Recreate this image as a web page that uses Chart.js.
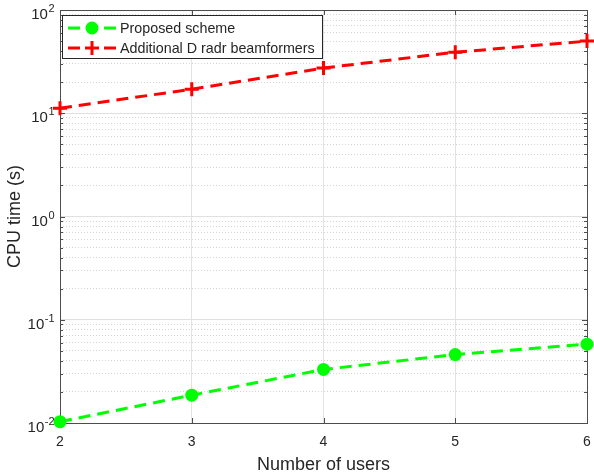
<!DOCTYPE html>
<html>
<head>
<meta charset="utf-8">
<script src="https://cdn.jsdelivr.net/npm/chart.js@4/dist/chart.umd.min.js"></script>
<style>
  html, body { margin: 0; padding: 0; background: #ffffff; }
  #wrap { width: 594px; height: 472px; }
</style>
</head>
<body>
<div id="wrap"><canvas id="cpuChart" width="594" height="472"></canvas></div>
<script>
// ---- data ----
const users = [2, 3, 4, 5, 6];
const proposedTime = [0.0103, 0.0186, 0.033, 0.046, 0.058];
const additionalTime = [11.2, 17.1, 27.4, 39, 50];
const seriesNames = ['Proposed scheme', 'Additional D radr beamformers'];
const yDecades = [0.01, 0.1, 1, 10, 100];
const xTickValues = [2, 3, 4, 5, 6];

const FONT = "'Liberation Sans', Arial, Helvetica, sans-serif";
const TEXT_COLOR = '#262626';
const AXIS_COLOR = '#4d4d4d';

// log ticks: 1..9 per decade, decades are "major"
const yTicks = [];
yDecades.forEach((d, i) => {
    if (i === yDecades.length - 1) { yTicks.push({ value: d, major: true }); return; }
    for (let k = 1; k <= 9; k++) {
        yTicks.push({ value: Number((k * d).toPrecision(3)), major: k === 1 });
    }
});

// Box + inward tick marks (MATLAB style)
const axesBox = {
    id: 'axesBox',
    beforeDatasetsDraw(chart) {
        const { ctx, chartArea: a, scales } = chart;
        ctx.save();
        ctx.strokeStyle = AXIS_COLOR;
        ctx.lineWidth = 1;
        ctx.beginPath();
        scales.x.ticks.forEach(t => {
            const px = Math.round(scales.x.getPixelForValue(t.value)) + 0.5;
            ctx.moveTo(px, a.bottom); ctx.lineTo(px, a.bottom - 5);
            ctx.moveTo(px, a.top); ctx.lineTo(px, a.top + 5);
        });
        scales.y.ticks.forEach(t => {
            const py = Math.round(scales.y.getPixelForValue(t.value)) + 0.5;
            const len = t.major ? 5 : 3;
            ctx.moveTo(a.left, py); ctx.lineTo(a.left + len, py);
            ctx.moveTo(a.right, py); ctx.lineTo(a.right - len, py);
        });
        ctx.stroke();
        ctx.strokeRect(Math.round(a.left) + 0.5, Math.round(a.top) + 0.5,
            Math.round(a.right - a.left), Math.round(a.bottom - a.top));
        ctx.restore();
    }
};

function drawMarker(ctx, ds, x, y) {
    if (ds.pointStyle === 'cross') {
        const r = ds.pointRadius;
        ctx.strokeStyle = ds.borderColor;
        ctx.lineWidth = 3;
        ctx.beginPath();
        ctx.moveTo(x - r, y); ctx.lineTo(x + r, y);
        ctx.moveTo(x, y - r); ctx.lineTo(x, y + r);
        ctx.stroke();
    } else {
        ctx.fillStyle = ds.pointBackgroundColor;
        ctx.beginPath();
        ctx.arc(x, y, ds.pointRadius, 0, Math.PI * 2);
        ctx.fill();
    }
}

// Legend inside the axes, upper left
const insideLegend = {
    id: 'insideLegend',
    afterDatasetsDraw(chart) {
        const { ctx } = chart;
        const x0 = 62, y0 = 15, w = 260, h = 43;
        ctx.save();
        ctx.fillStyle = '#ffffff';
        ctx.fillRect(x0, y0, w, h);
        ctx.strokeStyle = TEXT_COLOR;
        ctx.lineWidth = 1;
        ctx.strokeRect(x0 + 0.5, y0 + 0.5, w, h);
        chart.data.datasets.forEach((ds, i) => {
            const y = y0 + 13 + i * 20;
            ctx.strokeStyle = ds.borderColor;
            ctx.lineWidth = 3;
            ctx.beginPath();
            ctx.moveTo(68, y); ctx.lineTo(80, y);
            ctx.moveTo(104, y); ctx.lineTo(116, y);
            ctx.stroke();
            drawMarker(ctx, ds, 92, y);
            ctx.fillStyle = TEXT_COLOR;
            ctx.font = `14.3px ${FONT}`;
            ctx.textBaseline = 'middle';
            ctx.textAlign = 'left';
            ctx.fillText(ds.label, 120, y + 1);
        });
        ctx.restore();
    }
};

// 10^n labels with real superscripts
const decadeLabels = {
    id: 'decadeLabels',
    afterDraw(chart) {
        const { ctx, scales } = chart;
        ctx.save();
        ctx.fillStyle = TEXT_COLOR;
        ctx.textAlign = 'left';
        ctx.textBaseline = 'alphabetic';
        yDecades.forEach(v => {
            const py = scales.y.getPixelForValue(v);
            const exp = String(Math.round(Math.log10(v)));
            ctx.font = `15px ${FONT}`;
            const w1 = ctx.measureText('10').width;
            ctx.font = `11px ${FONT}`;
            const w2 = ctx.measureText(exp).width;
            const x = 54 - w1 - w2;
            ctx.font = `15px ${FONT}`;
            ctx.fillText('10', x, py + 9);
            ctx.font = `11px ${FONT}`;
            ctx.fillText(exp, x + w1 + 0.5, py + 2);
        });
        ctx.restore();
    }
};

function noScalePadding(scale) {
    scale.paddingLeft = 0;
    scale.paddingRight = 0;
    scale.paddingTop = 0;
    scale.paddingBottom = 0;
}

const ctx = document.getElementById('cpuChart').getContext('2d');
new Chart(ctx, {
    type: 'line',
    data: {
        datasets: [{
            label: seriesNames[0],
            data: users.map((u, i) => ({ x: u, y: proposedTime[i] })),
            borderColor: '#00ff00',
            backgroundColor: '#00ff00',
            borderWidth: 3,
            borderDash: [12, 7],
            pointStyle: 'circle',
            pointRadius: 6.5,
            pointBackgroundColor: '#00ff00',
            pointBorderColor: '#00ff00',
            pointBorderWidth: 0,
            tension: 0,
            fill: false,
            clip: false
        }, {
            label: seriesNames[1],
            data: users.map((u, i) => ({ x: u, y: additionalTime[i] })),
            borderColor: '#ff0000',
            backgroundColor: '#ff0000',
            borderWidth: 3,
            borderDash: [12, 7],
            pointStyle: 'cross',
            pointRadius: 7,
            pointBorderColor: '#ff0000',
            pointBorderWidth: 3,
            tension: 0,
            fill: false,
            clip: false
        }]
    },
    options: {
        responsive: false,
        animation: false,
        layout: { autoPadding: false, padding: { left: 0, right: 7, top: 10, bottom: 0 } },
        plugins: {
            legend: { display: false },
            tooltip: { enabled: false }
        },
        scales: {
            x: {
                type: 'linear',
                min: 2,
                max: 6,
                afterBuildTicks: (scale) => { scale.ticks = xTickValues.map(v => ({ value: v })); },
                afterFit: (scale) => { scale.height = 49; noScalePadding(scale); },
                ticks: {
                    color: TEXT_COLOR,
                    font: { family: FONT, size: 14 },
                    padding: 11,
                    autoSkip: false
                },
                grid: { color: '#e3e3e3', lineWidth: 1, drawTicks: false },
                border: { display: false },
                title: {
                    display: true,
                    text: 'Number of users',
                    color: TEXT_COLOR,
                    font: { family: FONT, size: 18, lineHeight: 0.8 },
                    padding: 0
                }
            },
            y: {
                type: 'logarithmic',
                min: 0.01,
                max: 100,
                afterBuildTicks: (scale) => { scale.ticks = yTicks.map(t => ({ value: t.value, major: t.major })); },
                afterFit: (scale) => { scale.width = 60; noScalePadding(scale); },
                ticks: { display: false, autoSkip: false },
                grid: {
                    drawTicks: false,
                    lineWidth: 1,
                    color: (c) => (c.tick && c.tick.major) ? '#e0e0e0' : '#d4d4d4'
                },
                border: {
                    display: false,
                    dash: (c) => (c.tick && !c.tick.major) ? [1, 2] : []
                },
                title: {
                    display: true,
                    text: 'CPU time (s)',
                    color: TEXT_COLOR,
                    font: { family: FONT, size: 18, lineHeight: 1 },
                    padding: { top: 6, bottom: 0 }
                }
            }
        }
    },
    plugins: [axesBox, insideLegend, decadeLabels]
});
</script>
</body>
</html>
